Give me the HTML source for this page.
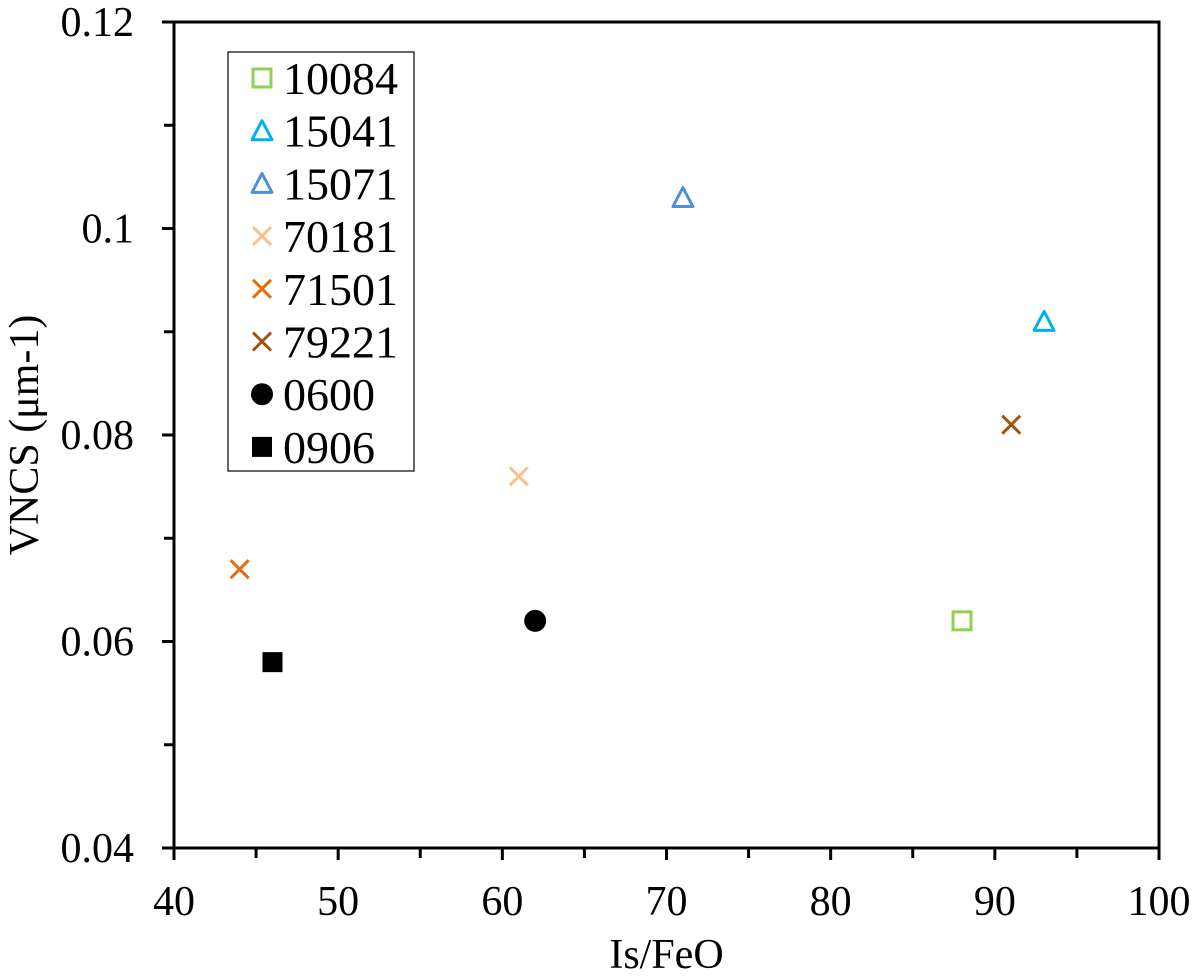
<!DOCTYPE html>
<html><head><meta charset="utf-8"><style>
html,body{margin:0;padding:0;background:#fff;}
svg{display:block;}
svg text{font-family:"Liberation Serif","DejaVu Serif",serif;}
</style></head><body>
<svg id="chart" width="1200" height="978" viewBox="0 0 1200 978"></svg>
<script>
const seriesNames=["10084","15041","15071","70181","71501","79221","0600","0906"];
const xValues=[88,93,71,61,44,91,62,46];
const yValues=[0.062,0.091,0.103,0.076,0.067,0.081,0.062,0.058];
const markers=["square","triangle","triangle","x","x","x","circle","filledsquare"];
const colors=["#92d050","#00b0f0","#4f8fd8","#f9c08a","#e46c0a","#a0520e","#000","#000"];
const xTicks=[40,50,60,70,80,90,100];
const yTicks=[0.04,0.06,0.08,0.1,0.12];
const yTickLabels=["0.04","0.06","0.08","0.1","0.12"];
const xMinor=[45,55,65,75,85,95];
const yMinor=[0.05,0.07,0.09,0.11];

const L=174,R=1159,T=22,B=848;
const sx=v=>L+(v-40)/60*(R-L);
const sy=v=>B-(v-0.04)/0.08*(B-T);
const svg=document.getElementById('chart');
const NS="http://www.w3.org/2000/svg";
const FF='"Liberation Serif", serif';
function mk(tag,attrs,parent){const e=document.createElementNS(NS,tag);for(const k in attrs)e.setAttribute(k,attrs[k]);if(tag==='text')e.setAttribute('font-family',FF);(parent||svg).appendChild(e);return e;}

const frame=mk('rect',{x:L,y:T,width:R-L,height:B-T,fill:'none',stroke:'#000','stroke-width':3});



xTicks.forEach(v=>{
  const t=mk('line',{x1:sx(v),x2:sx(v),y1:B,y2:B+12,stroke:'#000','stroke-width':3});
  
  
  const l=mk('text',{x:sx(v),y:915,'font-size':42,'text-anchor':'middle'});
  l.textContent=v;
  
  
});
xMinor.forEach(v=>{
  const t=mk('line',{x1:sx(v),x2:sx(v),y1:B,y2:B+10,stroke:'#000','stroke-width':3});
  
  
});
yTicks.forEach((v,i)=>{
  const t=mk('line',{x1:L-12,x2:L,y1:sy(v),y2:sy(v),stroke:'#000','stroke-width':3});
  
  
  const l=mk('text',{x:134,y:sy(v)+14,'font-size':42,'text-anchor':'end'});
  l.textContent=yTickLabels[i];
  
  
});
yMinor.forEach(v=>{
  const t=mk('line',{x1:L-10,x2:L,y1:sy(v),y2:sy(v),stroke:'#000','stroke-width':3});
  
  
});

const xt=mk('text',{x:(L+R)/2,y:968,'font-size':42,'text-anchor':'middle'});
xt.textContent="Is/FeO";


const yt=mk('text',{x:0,y:0,'font-size':42,'text-anchor':'middle',transform:'translate(38,435) rotate(-90)'});
yt.textContent="VNCS (\u03bcm-1)";



function drawMarker(kind,cx,cy,color,g){
  if(kind==='square'){mk('rect',{x:cx-9,y:cy-9,width:18,height:18,fill:'none',stroke:color,'stroke-width':3},g);}
  else if(kind==='filledsquare'){mk('rect',{x:cx-10,y:cy-10,width:20,height:20,fill:color},g);}
  else if(kind==='circle'){mk('circle',{cx:cx,cy:cy,r:11,fill:color},g);}
  else if(kind==='triangle'){mk('polygon',{points:`${cx},${cy-10} ${cx+10},${cy+9} ${cx-10},${cy+9}`,fill:'none',stroke:color,'stroke-width':3,'stroke-linejoin':'round'},g);}
  else if(kind==='x'){mk('path',{d:`M${cx-9},${cy-9}L${cx+9},${cy+9}M${cx+9},${cy-9}L${cx-9},${cy+9}`,stroke:color,'stroke-width':3},g);}
}

seriesNames.forEach((n,i)=>{
  const g=mk('g',{});
  
  
  drawMarker(markers[i],sx(xValues[i]),sy(yValues[i]),colors[i],g);
});

const lg=mk('g',{});


mk('rect',{x:228,y:52,width:186,height:419,fill:'#fff',stroke:'#333','stroke-width':1.5},lg);
seriesNames.forEach((n,i)=>{
  const cy=78+i*52.7;
  const g=mk('g',{},lg);
  
  
  drawMarker(markers[i],262,cy,colors[i],g);
  const t=mk('text',{x:283,y:cy+16,'font-size':46},g);
  t.textContent=n;
});
</script>
</body></html>
